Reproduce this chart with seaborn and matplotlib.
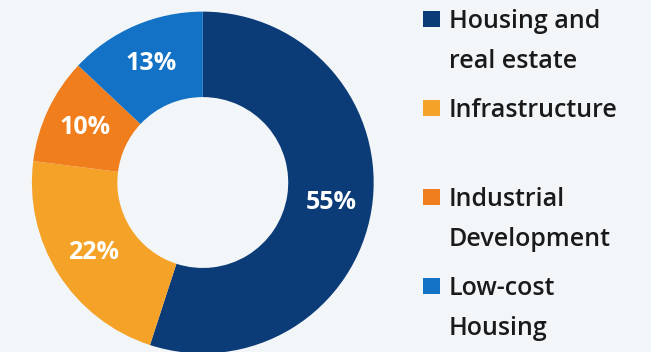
import matplotlib
matplotlib.use("Agg")
import matplotlib.pyplot as plt
import seaborn as sns
from matplotlib.patches import Rectangle

sns.set_theme(style="white")
plt.rcParams['font.family'] = ['Open Sans', 'DejaVu Sans']

categories = ["Housing and\nreal estate", "Infrastructure", "Industrial\nDevelopment", "Low-cost\nHousing"]
values = [55, 22, 10, 13]
colors = ["#0c3c78", "#f5a228", "#f07e1c", "#1472c6"]
bg = "#f3f6f9"

fig = plt.figure(figsize=(6.51, 3.52), dpi=100, facecolor=bg)
ax = fig.add_axes([0.049, -0.006, 0.525, 0.975])
ax.set_facecolor(bg)

wedges, texts, autotexts = ax.pie(
    values, colors=colors, startangle=90, counterclock=False,
    autopct=lambda p: f"{p:.0f}%", pctdistance=0.76,
    wedgeprops=dict(width=0.5, edgecolor="none"),
    textprops=dict(color="white", fontsize=18, fontweight="bold"),
)
ax.set_xlim(-1, 1)
ax.set_ylim(-1, 1)
ax.set_aspect("equal")

W, H = 651, 352
for i, (lab, col) in enumerate(zip(categories, colors)):
    ytop = 11 + i * 89
    fig.patches.append(Rectangle((423 / W, 1 - (ytop + 16) / H), 17 / W, 16 / H,
                                 transform=fig.transFigure, facecolor=col, edgecolor="none"))
    fig.text(449 / W, 1 - (ytop - 2) / H, lab, fontsize=18, color="#1a1a1a",
             va="top", ha="left", linespacing=1.8, fontweight="semibold")

fig.savefig("out.png", dpi=100, facecolor=bg)
